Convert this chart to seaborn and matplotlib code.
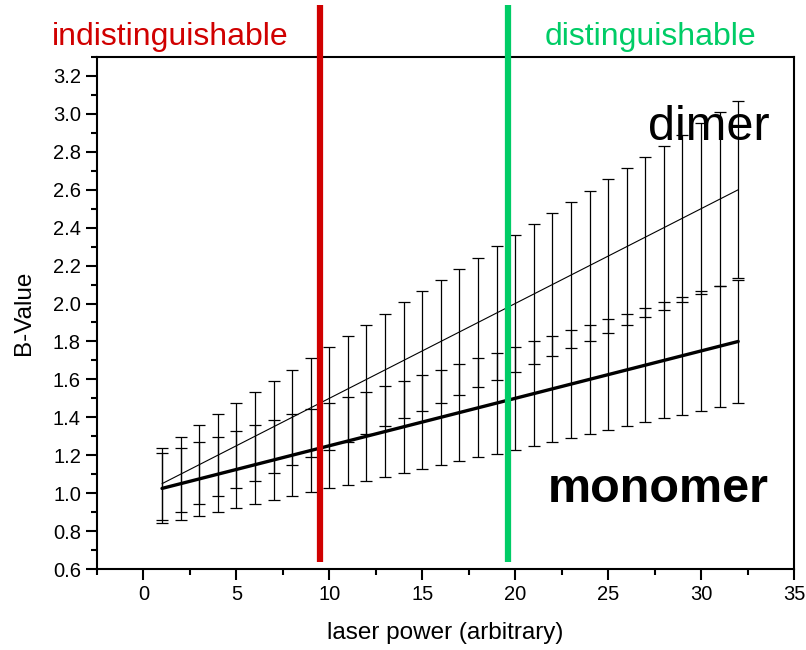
import matplotlib
matplotlib.use("Agg")
import matplotlib.pyplot as plt
from matplotlib.ticker import MultipleLocator
import seaborn as sns
import pandas as pd

# laser power steps
power = list(range(1, 33))

# mean B-values per species
monomer = [1.025, 1.05, 1.075, 1.10, 1.125, 1.15, 1.175, 1.20, 1.225, 1.25,
           1.275, 1.30, 1.325, 1.35, 1.375, 1.40, 1.425, 1.45, 1.475, 1.50,
           1.525, 1.55, 1.575, 1.60, 1.625, 1.65, 1.675, 1.70, 1.725, 1.75,
           1.775, 1.80]
dimer = [1.05, 1.10, 1.15, 1.20, 1.25, 1.30, 1.35, 1.40, 1.45, 1.50,
         1.55, 1.60, 1.65, 1.70, 1.75, 1.80, 1.85, 1.90, 1.95, 2.00,
         2.05, 2.10, 2.15, 2.20, 2.25, 2.30, 2.35, 2.40, 2.45, 2.50,
         2.55, 2.60]

# spread of B-values
monomer_err = [0.185, 0.189, 0.194, 0.198, 0.203, 0.207, 0.212, 0.216, 0.221, 0.225,
               0.230, 0.234, 0.239, 0.243, 0.248, 0.252, 0.257, 0.261, 0.266, 0.270,
               0.275, 0.279, 0.284, 0.288, 0.293, 0.297, 0.302, 0.306, 0.311, 0.315,
               0.320, 0.324]
dimer_err = [0.189, 0.198, 0.207, 0.216, 0.225, 0.234, 0.243, 0.252, 0.261, 0.270,
             0.279, 0.288, 0.297, 0.306, 0.315, 0.324, 0.333, 0.342, 0.351, 0.360,
             0.369, 0.378, 0.387, 0.396, 0.405, 0.414, 0.423, 0.432, 0.441, 0.450,
             0.459, 0.468]

# thresholds of distinguishability
threshold_low = 9.5
threshold_high = 19.6

sns.set_style("ticks")
plt.rcParams['font.family'] = ['Liberation Sans', 'DejaVu Sans']
plt.rcParams['text.color'] = 'black'
plt.rcParams['axes.labelcolor'] = 'black'
plt.rcParams['xtick.color'] = 'black'
plt.rcParams['ytick.color'] = 'black'

df = pd.DataFrame({"power": power, "monomer": monomer, "dimer": dimer})

fig = plt.figure(figsize=(8.06, 6.5), dpi=100)
ax = fig.add_axes([0.1203, 0.1246, 0.8648, 0.7877])

ax.errorbar(power, dimer, yerr=dimer_err, fmt='none', ecolor='black',
            elinewidth=0.9, capsize=4, capthick=0.9, zorder=2)
ax.errorbar(power, monomer, yerr=monomer_err, fmt='none', ecolor='black',
            elinewidth=0.9, capsize=4, capthick=0.9, zorder=2)

sns.lineplot(data=df, x="power", y="dimer", ax=ax, color='black', linewidth=0.8, zorder=3)
sns.lineplot(data=df, x="power", y="monomer", ax=ax, color='black', linewidth=2.4, zorder=3)

ax.axvline(threshold_low, ymin=0.0137, ymax=1.1016, color='#d00000', linewidth=4.5,
           solid_capstyle='butt', clip_on=False, zorder=5)
ax.axvline(threshold_high, ymin=0.0137, ymax=1.1016, color='#00cc66', linewidth=4.5,
           solid_capstyle='butt', clip_on=False, zorder=5)

ax.set_xlim(-2.5, 35)
ax.set_ylim(0.6, 3.3)
ax.xaxis.set_major_locator(MultipleLocator(5))
ax.xaxis.set_minor_locator(MultipleLocator(2.5))
ax.yaxis.set_major_locator(MultipleLocator(0.2))
ax.yaxis.set_minor_locator(MultipleLocator(0.1))
ax.set_yticks([0.6 + 0.2 * i for i in range(14)])
ax.set_yticklabels([f"{0.6 + 0.2 * i:.1f}" for i in range(14)])

for side in ['top', 'right', 'left', 'bottom']:
    ax.spines[side].set_visible(True)
    ax.spines[side].set_linewidth(1.5)
    ax.spines[side].set_color('black')

ax.tick_params(which='major', direction='out', length=8, width=1.5, labelsize=14.5,
               colors='black', top=False, right=False)
ax.tick_params(which='minor', direction='out', length=4.5, width=1.5,
               top=False, right=False)

ax.set_xlabel("laser power (arbitrary)", fontsize=17.5, labelpad=13)
ax.set_ylabel("B-Value", fontsize=17.5, labelpad=13)

ax.text(30.4, 2.93, "dimer", fontsize=35, color='black', ha='center', va='center', zorder=6)
ax.text(27.7, 1.02, "monomer", fontsize=35, fontweight='bold', color='black',
        ha='center', va='center', zorder=6)

fig.text(52 / 806, 1 - 37 / 650, "indistinguishable", color='#d00000', fontsize=23,
         ha='left', va='center')
fig.text(650 / 806, 1 - 37 / 650, "distinguishable", color='#00cc66', fontsize=23,
         ha='center', va='center')

fig.savefig("out.png", dpi=100)
